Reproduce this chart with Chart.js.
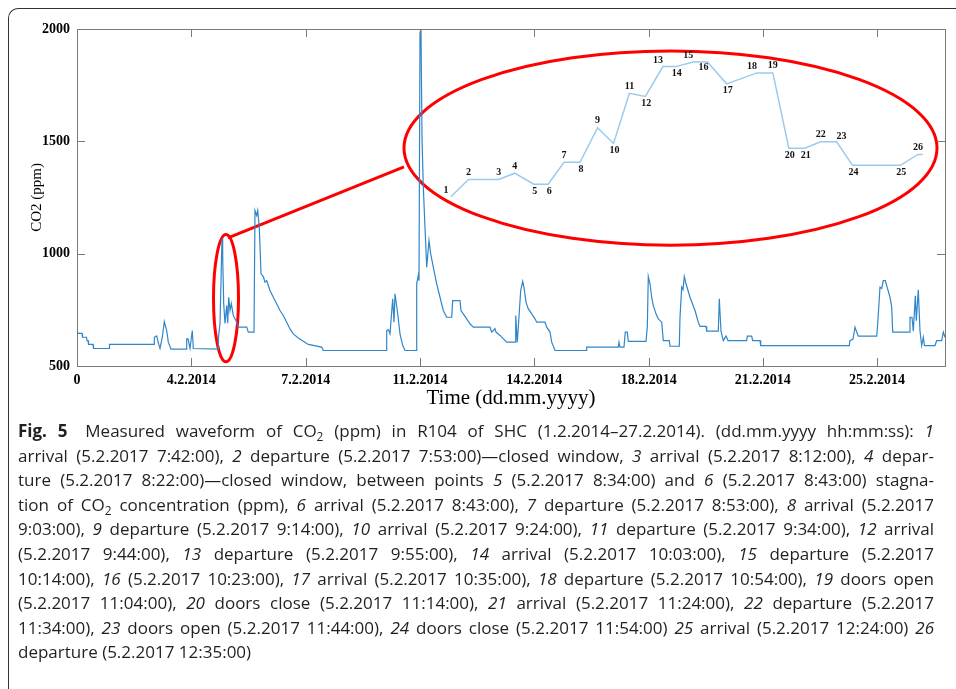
<!DOCTYPE html>
<html>
<head>
<meta charset="utf-8">
<script src="https://cdn.jsdelivr.net/npm/chart.js@4.4.1/dist/chart.umd.min.js"></script>
<style>
  html, body { margin: 0; padding: 0; background: #fff; }
  body { width: 956px; height: 689px; position: relative; overflow: hidden; }
  #frame { position: absolute; left: 8px; top: 8px; width: 980px; height: 720px;
           border-left: 1.5px solid #333; border-top: 1.5px solid #333; border-top-left-radius: 10px; }
  #chart { position: absolute; left: 0; top: 0; }
  #caption { position: absolute; left: 18px; top: 419px; width: 916px;
             font-family: 'Open Sans', sans-serif; font-size: 17px; line-height: 24.6px; color: #231f20; }
  #caption div { text-align: justify; text-align-last: justify; }
  #caption div.last { text-align-last: left; }
  #caption b { font-weight: 700; margin-right: 7px; }
  sub { font-size: 0.7em; vertical-align: -0.3em; line-height: 0; }
</style>
</head>
<body>
<div id="frame"></div>
<canvas id="chart" width="956" height="420"></canvas>
<div id="caption">
  <div><b>Fig. 5</b> Measured waveform of CO<sub>2</sub> (ppm) in R104 of SHC (1.2.2014–27.2.2014). (dd.mm.yyyy hh:mm:ss): <i>1</i></div>
  <div>arrival (5.2.2017 7:42:00), <i>2</i> departure (5.2.2017 7:53:00)—closed window, <i>3</i> arrival (5.2.2017 8:12:00), <i>4</i> depar-</div>
  <div>ture (5.2.2017 8:22:00)—closed window, between points <i>5</i> (5.2.2017 8:34:00) and <i>6</i> (5.2.2017 8:43:00) stagna-</div>
  <div>tion of CO<sub>2</sub> concentration (ppm), <i>6</i> arrival (5.2.2017 8:43:00), <i>7</i> departure (5.2.2017 8:53:00), <i>8</i> arrival (5.2.2017</div>
  <div>9:03:00), <i>9</i> departure (5.2.2017 9:14:00), <i>10</i> arrival (5.2.2017 9:24:00), <i>11</i> departure (5.2.2017 9:34:00), <i>12</i> arrival</div>
  <div>(5.2.2017 9:44:00), <i>13</i> departure (5.2.2017 9:55:00), <i>14</i> arrival (5.2.2017 10:03:00), <i>15</i> departure (5.2.2017</div>
  <div>10:14:00), <i>16</i> (5.2.2017 10:23:00), <i>17</i> arrival (5.2.2017 10:35:00), <i>18</i> departure (5.2.2017 10:54:00), <i>19</i> doors open</div>
  <div>(5.2.2017 11:04:00), <i>20</i> doors close (5.2.2017 11:14:00), <i>21</i> arrival (5.2.2017 11:24:00), <i>22</i> departure (5.2.2017</div>
  <div>11:34:00), <i>23</i> doors open (5.2.2017 11:44:00), <i>24</i> doors close (5.2.2017 11:54:00) <i>25</i> arrival (5.2.2017 12:24:00) <i>26</i></div>
  <div class="last">departure (5.2.2017 12:35:00)</div>
</div>
<script>
// CO2 waveform, R104 of SHC — MATLAB-style figure redrawn with Chart.js.
const SERIF = "'Liberation Serif', 'Times New Roman', serif";
const AXIS = "#7a7a7a";
const LINE_BLUE = "#2f86c9";
const INSET_BLUE = "#9ccaeb";
const RED = "#ff0000";

// x axis: days since 1.2.2014 00:00
const TICK_DAYS = [0, 3.43, 6.86, 10.29, 13.72, 17.15, 20.57, 24.0];
const TICK_LABELS = ["0", "4.2.2014", "7.2.2014", "11.2.2014", "14.2.2014", "18.2.2014", "21.2.2014", "25.2.2014"];
const Y_TICKS = [500, 1000, 1500, 2000];
const X_MAX = 26.04;

const CO2_DAYS = [
  0.00, 0.03, 0.15, 0.165, 0.285, 0.30, 0.33, 0.345, 0.48, 0.495, 0.96, 0.975, 2.31,
  2.319, 2.391, 2.451, 2.49, 2.559, 2.619, 2.691, 2.739, 2.82, 3.27, 3.291, 3.33, 3.39, 3.459, 3.489,
  4.23, 4.239, 4.29, 4.35, 4.371, 4.401, 4.44, 4.491, 4.521, 4.551, 4.59, 4.629, 4.689, 4.77, 4.839,
  5.091, 5.139, 5.31, 5.34, 5.391, 5.421, 5.469, 5.52, 5.589, 5.64, 5.691, 5.79, 5.889, 5.991,
  6.09, 6.189, 6.291, 6.39, 6.489, 6.639, 6.789, 6.939, 7.341, 7.389,
  9.27, 9.291, 9.339, 9.39, 9.471, 9.51, 9.54, 9.609, 9.69, 9.771, 9.84,
  10.17, 10.191, 10.239, 10.26, 10.29, 10.32, 10.35, 10.389, 10.44, 10.491, 10.56, 10.611, 10.689,
  10.791, 10.89, 10.989, 11.091, 11.241, 11.271, 11.49, 11.52, 11.589, 11.691, 11.79, 11.889,
  12.39, 12.441, 12.54, 12.57, 12.69, 12.891, 13.14, 13.161, 13.209, 13.311, 13.371, 13.41, 13.47,
  13.539, 13.641, 13.74, 13.791, 14.04, 14.091, 14.19, 14.241, 14.34, 15.27, 15.291,
  16.239, 16.26, 16.29, 16.41, 16.449, 16.509, 16.539, 17.07, 17.109, 17.139, 17.19, 17.241, 17.289,
  17.37, 17.439, 17.541, 17.589, 17.769, 17.79, 18.069, 18.09, 18.141, 18.18, 18.219, 18.27, 18.39,
  18.54, 18.639, 18.69, 18.87, 18.891, 19.239, 19.269, 19.32, 19.389, 19.47, 19.53,
  20.091, 20.109, 20.241, 20.271, 20.49, 20.511, 23.169, 23.19, 23.28, 23.34, 23.391, 23.439,
  23.991, 24.021, 24.09, 24.141, 24.189, 24.249, 24.291, 24.39, 24.441, 24.471, 24.969, 24.99,
  25.05, 25.089, 25.149, 25.179, 25.239, 25.29, 25.341, 25.389, 25.425, 25.74, 25.791, 25.941, 25.989, 26.04
];
const CO2_PPM = [
  661, 645, 645, 628, 628, 613, 613, 596, 596, 578, 578, 596, 596,
  628, 634, 596, 578, 628, 698, 658, 606, 575, 575, 621, 621, 578, 658, 578,
  575, 622, 689, 1067, 984, 778, 689, 769, 690, 806, 747, 778, 725, 702, 673,
  673, 651, 651, 1192, 1170, 1192, 1118, 910, 898, 873, 880, 836, 806, 777,
  747, 725, 695, 665, 643, 625, 610, 596, 584, 569,
  569, 658, 662, 643, 799, 695, 821, 747, 643, 591, 569,
  569, 867, 903, 880, 1985, 1995, 1518, 1296, 1118, 940, 1058, 999, 940,
  866, 806, 747, 717, 717, 791, 791, 747, 732, 710, 688, 673,
  673, 651, 666, 651, 636, 606, 606, 725, 606, 836, 877, 850, 784,
  754, 732, 710, 695, 695, 673, 651, 606, 569, 569, 584,
  584, 606, 584, 584, 651, 651, 610, 610, 673, 898, 866, 806, 769,
  732, 710, 695, 613, 613, 588, 588, 717, 851, 840, 898, 866, 806,
  747, 695, 676, 676, 655, 655, 799, 655, 613, 633, 613,
  613, 633, 633, 613, 613, 591, 591, 613, 620, 673, 651, 633,
  633, 688, 851, 845, 880, 880, 858, 806, 762, 651, 651, 717,
  717, 655, 813, 702, 839, 655, 591, 628, 591, 591, 613, 613, 651, 628
];

// zoomed detail of 5.2.2014 (inset inside the big ellipse)
const INSET_TIMES = ["7:42", "7:53", "8:12", "8:22", "8:34", "8:43", "8:53", "9:03", "9:14", "9:24",
  "9:34", "9:44", "9:55", "10:03", "10:14", "10:23", "10:35", "10:54", "11:04", "11:14",
  "11:24", "11:34", "11:44", "11:54", "12:24", "12:35", "12:38"];
const INSET_PPM = [640, 695, 695, 715, 680, 680, 750, 750, 860, 810, 970, 960, 1055, 1055, 1070,
  1070, 1000, 1035, 1035, 795, 795, 815, 815, 740, 740, 775, 775];
const INSET_LABELS = ["1", "2", "3", "4", "5", "6", "7", "8", "9", "10", "11", "12", "13",
  "14", "15", "16", "17", "18", "19", "20", "21", "22", "23", "24", "25", "26"];
const INSET_LABEL_POS = ["nw", "n", "n", "n", "s", "s", "n", "s", "n", "s", "n", "s", "nw",
  "s", "nw", "sw", "s", "nw", "n", "s", "s", "n", "ne", "s", "s", "n"];
const LABEL_OFFSET = { n: [0, -7], s: [1, 7], nw: [-5, -6], sw: [-4, 6], ne: [5, -5] };

// red annotations, in main-axis units (days, ppm)
const SMALL_ELLIPSE = { cx: 4.47, cy: 802, rx: 0.375, ry: 283 };
const BIG_ELLIPSE = { cx: 17.805, cy: 1470, rx: 7.995, ry: 432 };
const LINK = [[4.53, 1070], [9.81, 1386]];

const toMinutes = (t) => { const [h, m] = t.split(":").map(Number); return h * 60 + m; };

const annotate = {
  id: "annotate",
  beforeDatasetsDraw(chart) {
    const { ctx, scales: { x, y } } = chart;
    ctx.save();
    ctx.strokeStyle = RED;
    ctx.lineWidth = 3;
    for (const e of [SMALL_ELLIPSE, BIG_ELLIPSE]) {
      const cx = x.getPixelForValue(e.cx), cy = y.getPixelForValue(e.cy);
      const rx = x.getPixelForValue(e.cx + e.rx) - cx;
      const ry = cy - y.getPixelForValue(e.cy + e.ry);
      ctx.beginPath();
      ctx.ellipse(cx, cy, rx, ry, 0, 0, Math.PI * 2);
      ctx.stroke();
    }
    ctx.beginPath();
    ctx.moveTo(x.getPixelForValue(LINK[0][0]), y.getPixelForValue(LINK[0][1]));
    ctx.lineTo(x.getPixelForValue(LINK[1][0]), y.getPixelForValue(LINK[1][1]));
    ctx.stroke();
    ctx.restore();
  },
  afterDatasetsDraw(chart) {
    const { ctx } = chart;
    const pts = chart.getDatasetMeta(1).data;
    ctx.save();
    ctx.font = "bold 10px " + SERIF;
    ctx.fillStyle = "#111";
    ctx.textAlign = "center";
    ctx.textBaseline = "middle";
    INSET_LABELS.forEach((lab, i) => {
      const [dx, dy] = LABEL_OFFSET[INSET_LABEL_POS[i]];
      ctx.fillText(lab, pts[i].x + dx, pts[i].y + dy);
    });
    ctx.restore();
  },
  afterDraw(chart) {
    // MATLAB box with inward ticks on all four sides
    const { ctx, chartArea: a, scales: { x, y } } = chart;
    const tl = 8;
    ctx.save();
    ctx.strokeStyle = AXIS;
    ctx.lineWidth = 1;
    ctx.strokeRect(a.left + 0.5, a.top + 0.5, a.right - a.left, a.bottom - a.top);
    ctx.beginPath();
    TICK_DAYS.forEach((d) => {
      const px = Math.round(x.getPixelForValue(d)) + 0.5;
      ctx.moveTo(px, a.bottom); ctx.lineTo(px, a.bottom - tl);
      ctx.moveTo(px, a.top); ctx.lineTo(px, a.top + tl);
    });
    Y_TICKS.forEach((v) => {
      const py = Math.round(y.getPixelForValue(v)) + 0.5;
      ctx.moveTo(a.left, py); ctx.lineTo(a.left + tl, py);
      ctx.moveTo(a.right, py); ctx.lineTo(a.right - tl, py);
    });
    ctx.stroke();
    ctx.restore();
  },
};

new Chart(document.getElementById("chart"), {
  type: "line",
  data: {
    datasets: [
      {
        data: CO2_DAYS.map((d, i) => ({ x: d, y: CO2_PPM[i] })),
        borderColor: LINE_BLUE,
        borderWidth: 1.2,
        pointRadius: 0,
        tension: 0,
        xAxisID: "x",
        yAxisID: "y",
      },
      {
        data: INSET_TIMES.map((t, i) => ({ x: toMinutes(t), y: INSET_PPM[i] })),
        borderColor: INSET_BLUE,
        borderWidth: 1.5,
        pointRadius: 0,
        tension: 0,
        xAxisID: "x2",
        yAxisID: "y2",
      },
    ],
  },
  options: {
    responsive: false,
    animation: false,
    devicePixelRatio: 1,
    layout: { padding: { top: 29, right: 11, left: 0, bottom: 0 } },
    plugins: { legend: { display: false }, tooltip: { enabled: false } },
    scales: {
      x: {
        type: "linear",
        position: "bottom",
        min: 0,
        max: X_MAX,
        grid: { display: false, drawTicks: false },
        border: { display: false },
        afterBuildTicks: (s) => { s.ticks = TICK_DAYS.map((v) => ({ value: v })); },
        afterFit: (s) => { s.height = 54; },
        ticks: {
          autoSkip: false,
          maxRotation: 0,
          padding: 6,
          color: "#000",
          font: { family: SERIF, size: 14, weight: "bold" },
          callback: (v, i) => TICK_LABELS[i],
        },
        title: {
          display: true,
          text: "Time (dd.mm.yyyy)",
          color: "#000",
          font: { family: SERIF, size: 21 },
          padding: { top: 0, bottom: 9 },
        },
      },
      y: {
        type: "linear",
        position: "left",
        min: 500,
        max: 2000,
        grid: { display: false, drawTicks: false },
        border: { display: false },
        afterBuildTicks: (s) => { s.ticks = Y_TICKS.map((v) => ({ value: v })); },
        afterFit: (s) => { s.width = 77; },
        ticks: {
          padding: 7,
          color: "#000",
          font: { family: SERIF, size: 14, weight: "bold" },
          callback: (v) => String(v),
        },
        title: {
          display: true,
          text: "CO2 (ppm)",
          color: "#000",
          font: { family: SERIF, size: 15 },
          padding: { top: 28, bottom: 0 },
        },
      },
      x2: { type: "linear", axis: "x", position: "bottom", display: false, min: 227.4, max: 772 },
      y2: { type: "linear", axis: "y", position: "left", display: false, min: 100, max: 1175 },
    },
  },
  plugins: [annotate],
});
</script>
</body>
</html>
